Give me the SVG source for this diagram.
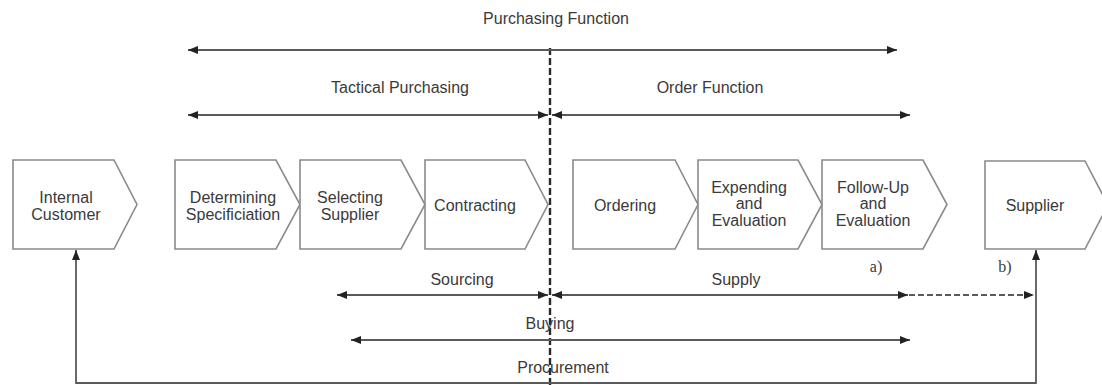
<svg xmlns="http://www.w3.org/2000/svg" width="1102" height="385" viewBox="0 0 1102 385">
  <style>
    .step { fill: #ffffff; stroke: #8a8a8a; stroke-width: 1.6; }
    .lbl { font-family: "Liberation Sans", Arial, sans-serif; font-size: 16px; fill: #3a3a3a; text-anchor: middle; }
    .note { font-family: "Liberation Serif", "Times New Roman", serif; font-size: 16px; fill: #3a3a3a; text-anchor: middle; }
    .span { fill: none; stroke: #5a5a5a; stroke-width: 1.8; }
    .dash { fill: none; stroke: #2a2a2a; stroke-width: 2.4; stroke-dasharray: 7 3; }
  </style>
  <defs>
    <marker id="head" viewBox="0 0 10 8" refX="10" refY="4" markerWidth="10" markerHeight="8" markerUnits="userSpaceOnUse" orient="auto-start-reverse">
      <path d="M0,0 L10,4 L0,8 Z" fill="#222222"/>
    </marker>
  </defs>

  <rect width="1102" height="385" fill="#ffffff"/>

  <!-- process steps -->
  <g id="internal-customer">
    <path class="step" d="M13,160 H114 L137,204.5 L114,249 H13 Z"/>
    <text class="lbl" x="66" y="203">Internal</text>
    <text class="lbl" x="66" y="220">Customer</text>
  </g>
  <g id="determining-specification">
    <path class="step" d="M175,160 H276 L300,204.5 L276,249 H175 Z"/>
    <text class="lbl" x="233" y="203">Determining</text>
    <text class="lbl" x="233" y="220">Specificiation</text>
  </g>
  <g id="selecting-supplier">
    <path class="step" d="M300,160 H401 L425,204.5 L401,249 H300 Z"/>
    <text class="lbl" x="350" y="203">Selecting</text>
    <text class="lbl" x="350" y="220">Supplier</text>
  </g>
  <g id="contracting">
    <path class="step" d="M425,160 H525 L548,204.5 L525,249 H425 Z"/>
    <text class="lbl" x="475" y="211">Contracting</text>
  </g>
  <g id="ordering">
    <path class="step" d="M573,160 H675 L698,204.5 L675,249 H573 Z"/>
    <text class="lbl" x="625" y="211">Ordering</text>
  </g>
  <g id="expending-evaluation">
    <path class="step" d="M698,160 H798 L822,204.5 L798,249 H698 Z"/>
    <text class="lbl" x="749" y="193">Expending</text>
    <text class="lbl" x="749" y="209">and</text>
    <text class="lbl" x="749" y="226">Evaluation</text>
  </g>
  <g id="follow-up-evaluation">
    <path class="step" d="M822,160 H923 L947,204.5 L923,249 H822 Z"/>
    <text class="lbl" x="873" y="193">Follow-Up</text>
    <text class="lbl" x="873" y="209">and</text>
    <text class="lbl" x="873" y="226">Evaluation</text>
  </g>
  <g id="supplier">
    <path class="step" d="M985,161 H1085 L1108,205 L1085,249 H985 Z"/>
    <text class="lbl" x="1035" y="211">Supplier</text>
  </g>

  <!-- scope arrows, divider and feedback loop -->
  <g id="connectors">
    <line class="dash" x1="550" y1="48" x2="550" y2="385"/>
    <line class="span" x1="188" y1="50" x2="897" y2="50" marker-start="url(#head)" marker-end="url(#head)"/>
    <line class="span" x1="188" y1="115" x2="548" y2="115" marker-start="url(#head)" marker-end="url(#head)"/>
    <line class="span" x1="552" y1="115" x2="910" y2="115" marker-start="url(#head)" marker-end="url(#head)"/>
    <line class="span" x1="337" y1="295" x2="548" y2="295" marker-start="url(#head)" marker-end="url(#head)"/>
    <line class="span" x1="552" y1="295" x2="908" y2="295" marker-start="url(#head)" marker-end="url(#head)"/>
    <line class="span" x1="909" y1="295" x2="1034" y2="295" stroke-dasharray="6 3" marker-end="url(#head)"/>
    <line class="span" x1="351" y1="340" x2="910" y2="340" marker-start="url(#head)" marker-end="url(#head)"/>
    <polyline class="span" points="76,250 76,383 1036,383 1036,250" marker-start="url(#head)" marker-end="url(#head)"/>
  </g>

  <!-- scope labels -->
  <g id="labels">
    <text class="lbl" x="556" y="24">Purchasing Function</text>
    <text class="lbl" x="400" y="93">Tactical Purchasing</text>
    <text class="lbl" x="710" y="93">Order Function</text>
    <text class="lbl" x="462" y="285">Sourcing</text>
    <text class="lbl" x="736" y="285">Supply</text>
    <text class="lbl" x="550" y="329">Buying</text>
    <text class="lbl" x="563" y="373">Procurement</text>
    <text class="note" x="876" y="272">a)</text>
    <text class="note" x="1005" y="272">b)</text>
  </g>
</svg>
